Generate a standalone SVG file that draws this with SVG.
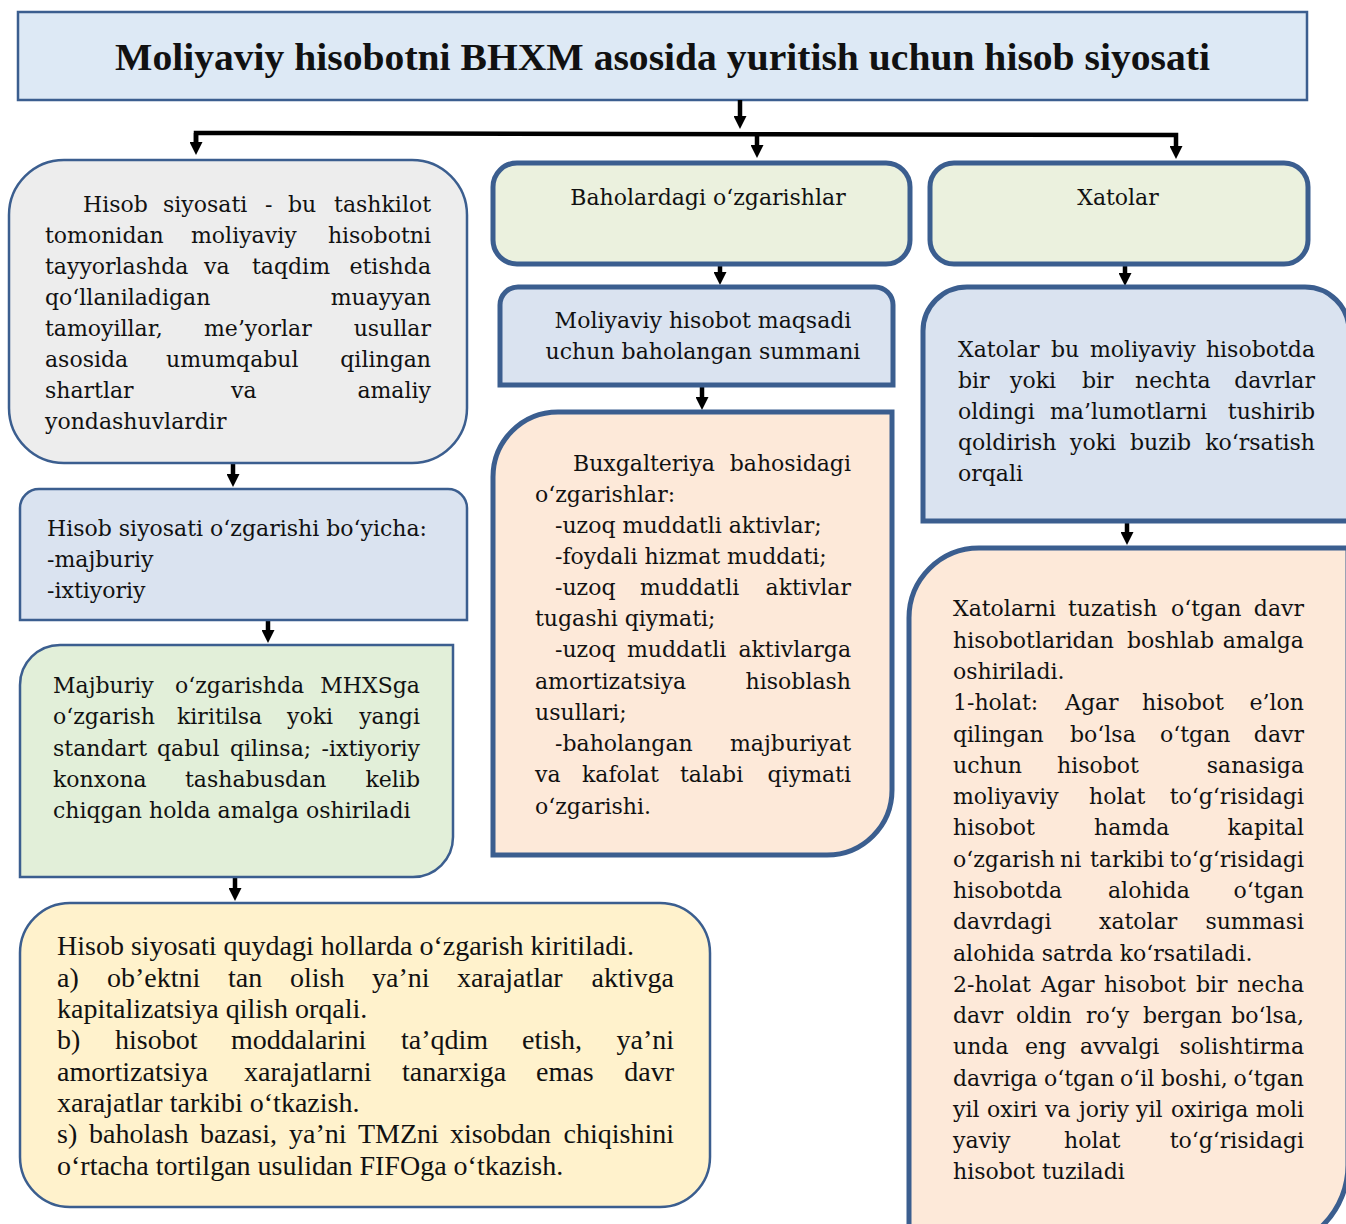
<svg xmlns="http://www.w3.org/2000/svg" width="1346" height="1224" viewBox="0 0 1346 1224">
<style>
.t{font-family:"DejaVu Serif","Liberation Serif",serif;font-size:22px;fill:#111}
.y{font-family:"Liberation Serif","DejaVu Serif",serif;font-size:28px;fill:#111}
.e{text-anchor:end}
.m{text-anchor:middle}
.thin{stroke:#3b5e8f;stroke-width:2.5}
.thick{stroke:#3b5e8f;stroke-width:5}
.c{fill:none;stroke:#000;stroke-width:4.5}
</style>
<defs>
<marker id="ah" viewBox="0 0 10 10" refX="0" refY="5" markerWidth="16" markerHeight="13" markerUnits="userSpaceOnUse" orient="auto">
<path d="M0,0 L10,5 L0,10 z" fill="#000"/>
</marker>
</defs>
<rect width="1346" height="1224" fill="#fff"/>

<g id="title">
<rect x="18" y="12" width="1289" height="88" fill="#dde9f5" class="thin"/>
<text x="115" y="70" font-family="Liberation Serif,serif" font-weight="bold" font-size="37" textLength="1095" lengthAdjust="spacingAndGlyphs" fill="#111">Moliyaviy hisobotni BHXM asosida yuritish uchun hisob siyosati</text>
</g>

<g id="connectors">
<path class="c" d="M740,100 V116" marker-end="url(#ah)"/>
<path class="c" d="M196,142 V133 L1176,135 V146" marker-end="url(#ah)"/>
<path class="c" d="M196,133 V142" marker-end="url(#ah)"/>
<path class="c" d="M757,134 V145" marker-end="url(#ah)"/>
<path class="c" d="M720,264 V272" marker-end="url(#ah)"/>
<path class="c" d="M1125,264 V273" marker-end="url(#ah)"/>
<path class="c" d="M702,385 V397" marker-end="url(#ah)"/>
<path class="c" d="M233,463 V474" marker-end="url(#ah)"/>
<path class="c" d="M268,620 V630" marker-end="url(#ah)"/>
<path class="c" d="M235,877 V888" marker-end="url(#ah)"/>
<path class="c" d="M1127,521 V532" marker-end="url(#ah)"/>
</g>

<g id="definition">
<rect x="9" y="160" width="458" height="303" rx="55" fill="#ededed" class="thin"/>
<text class="t" y="212"><tspan x="83">Hisob</tspan><tspan x="163">siyosati</tspan><tspan x="265">-</tspan><tspan x="288">bu</tspan></text>
<text class="t e" x="431" y="212">tashkilot</text>
<text class="t" y="243"><tspan x="45">tomonidan</tspan><tspan x="191">moliyaviy</tspan></text>
<text class="t e" x="431" y="243">hisobotni</text>
<text class="t" y="274"><tspan x="45">tayyorlashda</tspan><tspan x="204">va</tspan><tspan x="252">taqdim</tspan></text>
<text class="t e" x="431" y="274">etishda</text>
<text class="t" x="45" y="305">qo‘llaniladigan</text>
<text class="t e" x="431" y="305">muayyan</text>
<text class="t" y="336"><tspan x="45">tamoyillar,</tspan><tspan x="204">me’yorlar</tspan></text>
<text class="t e" x="431" y="336">usullar</text>
<text class="t" y="367"><tspan x="45">asosida</tspan><tspan x="166">umumqabul</tspan></text>
<text class="t e" x="431" y="367">qilingan</text>
<text class="t" y="398"><tspan x="45">shartlar</tspan><tspan x="231">va</tspan></text>
<text class="t e" x="431" y="398">amaliy</text>
<text class="t" x="45" y="429">yondashuvlardir</text>
</g>

<g id="estimates">
<rect x="493" y="163" width="417" height="101" rx="24" fill="#ebf1de" class="thick"/>
<text class="t m" x="708" y="205">Baholardagi o‘zgarishlar</text>
</g>

<g id="errors">
<rect x="930" y="163" width="378" height="101" rx="24" fill="#ebf1de" class="thick"/>
<text class="t m" x="1118" y="205">Xatolar</text>
</g>

<g id="estimate-purpose">
<path d="M500,385 V305 A18,18 0 0 1 518,287 H875 A18,18 0 0 1 893,305 V385 Z" fill="#dae3f0" class="thick"/>
<text class="t m" x="703" y="328">Moliyaviy hisobot maqsadi</text>
<text class="t m" x="703" y="359">uchun baholangan summani</text>
</g>

<g id="estimate-changes">
<path d="M493,855 V477 A65,65 0 0 1 558,412 H892 V790 A65,65 0 0 1 827,855 Z" fill="#fde9d9" class="thick"/>
<text class="t" x="573" y="471">Buxgalteriya</text>
<text class="t e" x="851" y="471">bahosidagi</text>
<text class="t" x="535" y="502">o‘zgarishlar:</text>
<text class="t" x="555" y="533">-uzoq muddatli aktivlar;</text>
<text class="t" x="555" y="564">-foydali hizmat muddati;</text>
<text class="t" y="595"><tspan x="555">-uzoq</tspan><tspan x="640">muddatli</tspan></text>
<text class="t e" x="851" y="595">aktivlar</text>
<text class="t" x="535" y="626">tugashi qiymati;</text>
<text class="t" y="657"><tspan x="555">-uzoq</tspan><tspan x="627">muddatli</tspan></text>
<text class="t e" x="851" y="657">aktivlarga</text>
<text class="t" x="535" y="689">amortizatsiya</text>
<text class="t e" x="851" y="689">hisoblash</text>
<text class="t" x="535" y="720">usullari;</text>
<text class="t" x="555" y="751">-baholangan</text>
<text class="t e" x="851" y="751">majburiyat</text>
<text class="t" y="782"><tspan x="535">va</tspan><tspan x="582">kafolat</tspan><tspan x="680">talabi</tspan></text>
<text class="t e" x="851" y="782">qiymati</text>
<text class="t" x="535" y="814">o‘zgarishi.</text>
</g>

<g id="change-types">
<path d="M20,620 V508 A19,19 0 0 1 39,489 H448 A19,19 0 0 1 467,508 V620 Z" fill="#dae3f0" class="thin"/>
<text class="t" x="47" y="536">Hisob siyosati o‘zgarishi bo‘yicha:</text>
<text class="t" x="47" y="567">-majburiy</text>
<text class="t" x="47" y="598">-ixtiyoriy</text>
</g>

<g id="mandatory">
<path d="M20,877 V685 A40,40 0 0 1 60,645 H453 V837 A40,40 0 0 1 413,877 Z" fill="#e2efd9" class="thin"/>
<text class="t" y="693"><tspan x="53">Majburiy</tspan><tspan x="175">o‘zgarishda</tspan></text>
<text class="t e" x="420" y="693">MHXSga</text>
<text class="t" y="724"><tspan x="53">o‘zgarish</tspan><tspan x="177">kiritilsa</tspan><tspan x="287">yoki</tspan></text>
<text class="t e" x="420" y="724">yangi</text>
<text class="t" y="756"><tspan x="53">standart</tspan><tspan x="157">qabul</tspan><tspan x="230">qilinsa;</tspan></text>
<text class="t e" x="420" y="756">-ixtiyoriy</text>
<text class="t" y="787"><tspan x="53">konxona</tspan><tspan x="185">tashabusdan</tspan></text>
<text class="t e" x="420" y="787">kelib</text>
<text class="t" x="53" y="818">chiqgan holda amalga oshiriladi</text>
</g>

<g id="cases">
<rect x="20" y="903" width="690" height="304" rx="50" fill="#fff2cc" class="thin"/>
<text class="y" x="57" y="955">Hisob siyosati quydagi hollarda o‘zgarish kiritiladi.</text>
<text class="y" y="987"><tspan x="57">a)</tspan><tspan x="107">ob’ektni</tspan><tspan x="228">tan</tspan><tspan x="290">olish</tspan><tspan x="372">ya’ni</tspan><tspan x="457">xarajatlar</tspan></text>
<text class="y e" x="674" y="987">aktivga</text>
<text class="y" x="57" y="1018">kapitalizatsiya qilish orqali.</text>
<text class="y" y="1049"><tspan x="57">b)</tspan><tspan x="115">hisobot</tspan><tspan x="231">moddalarini</tspan><tspan x="401">ta’qdim</tspan><tspan x="522">etish,</tspan></text>
<text class="y e" x="674" y="1049">ya’ni</text>
<text class="y" y="1081"><tspan x="57">amortizatsiya</tspan><tspan x="244">xarajatlarni</tspan><tspan x="402">tanarxiga</tspan><tspan x="536">emas</tspan></text>
<text class="y e" x="674" y="1081">davr</text>
<text class="y" x="57" y="1112">xarajatlar tarkibi o‘tkazish.</text>
<text class="y" y="1143"><tspan x="57">s)</tspan><tspan x="89">baholash</tspan><tspan x="200">bazasi,</tspan><tspan x="289">ya’ni</tspan><tspan x="358">TMZni</tspan><tspan x="450">xisobdan</tspan></text>
<text class="y e" x="674" y="1143">chiqishini</text>
<text class="y" x="57" y="1175">o‘rtacha tortilgan usulidan FIFOga o‘tkazish.</text>
</g>

<g id="error-definition">
<path d="M923,521 V331 A44,44 0 0 1 967,287 H1305 A44,44 0 0 1 1349,331 V521 Z" fill="#dae3f0" class="thick"/>
<text class="t" y="357"><tspan x="958">Xatolar</tspan><tspan x="1051">bu</tspan><tspan x="1090">moliyaviy</tspan></text>
<text class="t e" x="1315" y="357">hisobotda</text>
<text class="t" y="388"><tspan x="958">bir</tspan><tspan x="1010">yoki</tspan><tspan x="1082">bir</tspan><tspan x="1135">nechta</tspan></text>
<text class="t e" x="1315" y="388">davrlar</text>
<text class="t" y="419"><tspan x="958">oldingi</tspan><tspan x="1050">ma’lumotlarni</tspan></text>
<text class="t e" x="1315" y="419">tushirib</text>
<text class="t" y="450"><tspan x="958">qoldirish</tspan><tspan x="1070">yoki</tspan><tspan x="1130">buzib</tspan></text>
<text class="t e" x="1315" y="450">ko‘rsatish</text>
<text class="t" x="958" y="481">orqali</text>
</g>

<g id="error-correction">
<path d="M909,1250 V618 A70,70 0 0 1 979,548 H1348 V1165 A85,85 0 0 1 1263,1250 Z" fill="#fde9d9" class="thick"/>
<text class="t" y="616"><tspan x="953">Xatolarni</tspan><tspan x="1068">tuzatish</tspan><tspan x="1171">o‘tgan</tspan></text>
<text class="t e" x="1304" y="616">davr</text>
<text class="t" y="648"><tspan x="953">hisobotlaridan</tspan><tspan x="1127">boshlab</tspan></text>
<text class="t e" x="1304" y="648">amalga</text>
<text class="t" x="953" y="679">oshiriladi.</text>
<text class="t" y="710"><tspan x="953">1-holat:</tspan><tspan x="1065">Agar</tspan><tspan x="1142">hisobot</tspan></text>
<text class="t e" x="1304" y="710">e’lon</text>
<text class="t" y="742"><tspan x="953">qilingan</tspan><tspan x="1070">bo‘lsa</tspan><tspan x="1160">o‘tgan</tspan></text>
<text class="t e" x="1304" y="742">davr</text>
<text class="t" y="773"><tspan x="953">uchun</tspan><tspan x="1057">hisobot</tspan></text>
<text class="t e" x="1304" y="773">sanasiga</text>
<text class="t" y="804"><tspan x="953">moliyaviy</tspan><tspan x="1089">holat</tspan></text>
<text class="t e" x="1304" y="804">to‘g‘risidagi</text>
<text class="t" y="835"><tspan x="953">hisobot</tspan><tspan x="1094">hamda</tspan></text>
<text class="t e" x="1304" y="835">kapital</text>
<text class="t" y="867"><tspan x="953">o‘zgarish</tspan><tspan x="1060">ni</tspan><tspan x="1090">tarkibi</tspan></text>
<text class="t e" x="1304" y="867">to‘g‘risidagi</text>
<text class="t" y="898"><tspan x="953">hisobotda</tspan><tspan x="1108">alohida</tspan></text>
<text class="t e" x="1304" y="898">o‘tgan</text>
<text class="t" y="929"><tspan x="953">davrdagi</tspan><tspan x="1099">xatolar</tspan></text>
<text class="t e" x="1304" y="929">summasi</text>
<text class="t" x="953" y="961">alohida satrda ko‘rsatiladi.</text>
<text class="t" y="992"><tspan x="953">2-holat</tspan><tspan x="1041">Agar</tspan><tspan x="1104">hisobot</tspan><tspan x="1196">bir</tspan></text>
<text class="t e" x="1304" y="992">necha</text>
<text class="t" y="1023"><tspan x="953">davr</tspan><tspan x="1016">oldin</tspan><tspan x="1086">ro‘y</tspan><tspan x="1143">bergan</tspan></text>
<text class="t e" x="1304" y="1023">bo‘lsa,</text>
<text class="t" y="1054"><tspan x="953">unda</tspan><tspan x="1025">eng</tspan><tspan x="1080">avvalgi</tspan></text>
<text class="t e" x="1304" y="1054">solishtirma</text>
<text class="t" y="1086"><tspan x="953">davriga</tspan><tspan x="1044">o‘tgan</tspan><tspan x="1120">o‘il</tspan><tspan x="1161">boshi,</tspan></text>
<text class="t e" x="1304" y="1086">o‘tgan</text>
<text class="t" y="1117"><tspan x="953">yil</tspan><tspan x="987">oxiri</tspan><tspan x="1045">va</tspan><tspan x="1079">joriy</tspan><tspan x="1136">yil</tspan><tspan x="1171">oxiriga</tspan></text>
<text class="t e" x="1304" y="1117">moli</text>
<text class="t" y="1148"><tspan x="953">yaviy</tspan><tspan x="1064">holat</tspan></text>
<text class="t e" x="1304" y="1148">to‘g‘risidagi</text>
<text class="t" x="953" y="1179">hisobot tuziladi</text>
</g>
</svg>
